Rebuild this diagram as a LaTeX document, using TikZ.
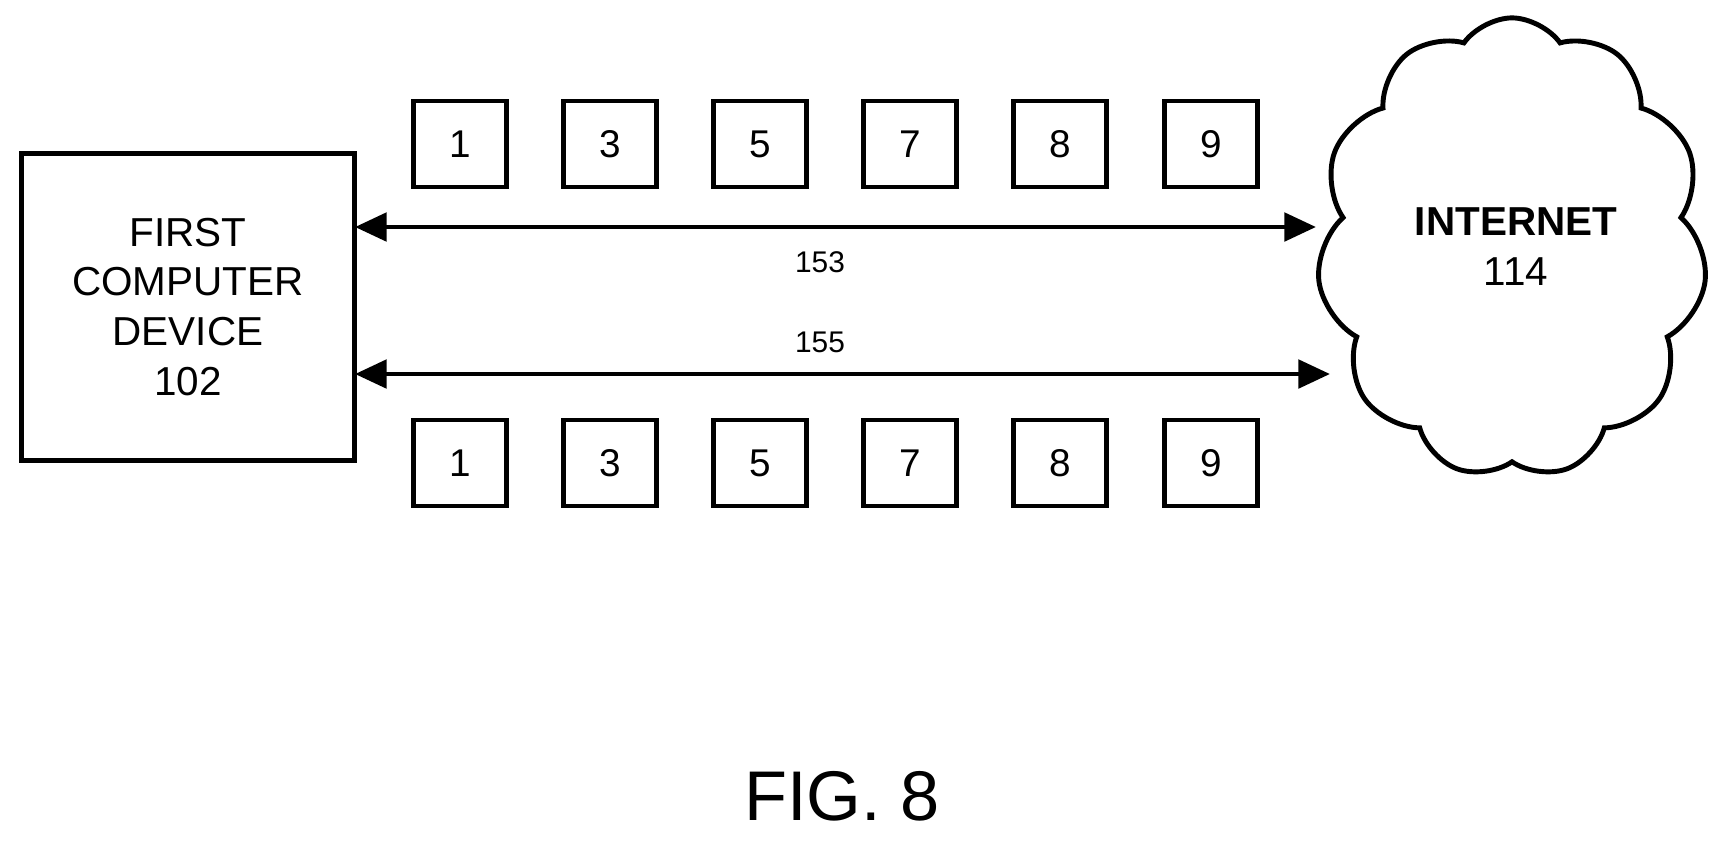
\documentclass[tikz,border=0pt]{standalone}
\usepackage{fontspec}
\setmainfont{Liberation Sans}
\usetikzlibrary{shapes.symbols,arrows.meta}
\begin{document}
\begin{tikzpicture}[x=0.01cm,y=-0.01cm,
  blk/.style={draw,line width=1.2pt,minimum width=0.93cm,minimum height=0.86cm,inner sep=0pt,font=\fontsize{11}{13}\selectfont},
  conn/.style={line width=1.4pt,{Triangle[length=9pt,width=8pt]}-{Triangle[length=9pt,width=8pt]}},
  lbl/.style={font=\fontsize{8.5}{10}\selectfont}]
\useasboundingbox (0,0) rectangle (1733,841);
\node[draw,line width=1.2pt,minimum width=3.33cm,minimum height=3.07cm,align=center,
  font=\fontsize{11.5}{14.2}\selectfont] (fc) at (188,307) {FIRST\\COMPUTER\\DEVICE\\102};
\foreach \n/\x in {1/460,3/610,5/760,7/910,8/1060,9/1211}{
  \node[blk] (t\n) at (\x,144) {\n};
  \node[blk] (b\n) at (\x,463) {\n};
}
\node[cloud,draw,line width=1.4pt,cloud puffs=11,cloud puff arc=110,aspect=0.85,
  minimum width=3.9cm,minimum height=4.6cm,inner sep=0pt] (net) at (1512,248) {};
\node[font=\bfseries\fontsize{11.5}{14}\selectfont] (it) at (1516,222) {INTERNET};
\node[font=\fontsize{11.5}{14}\selectfont] (in) at (1516,272) {114};
\coordinate (a1) at (355,227);
\coordinate (a2) at (1316,227);
\coordinate (c1) at (355,374);
\coordinate (c2) at (1330,374);
\draw[conn] (a1) -- (a2);
\draw[conn] (c1) -- (c2);
\node[lbl] (l153) at (820,262) {153};
\node[lbl] (l155) at (820,342) {155};
\node[font=\fontsize{20}{24}\selectfont] (fig) at (842,796) {FIG. 8};
\end{tikzpicture}
\end{document}
